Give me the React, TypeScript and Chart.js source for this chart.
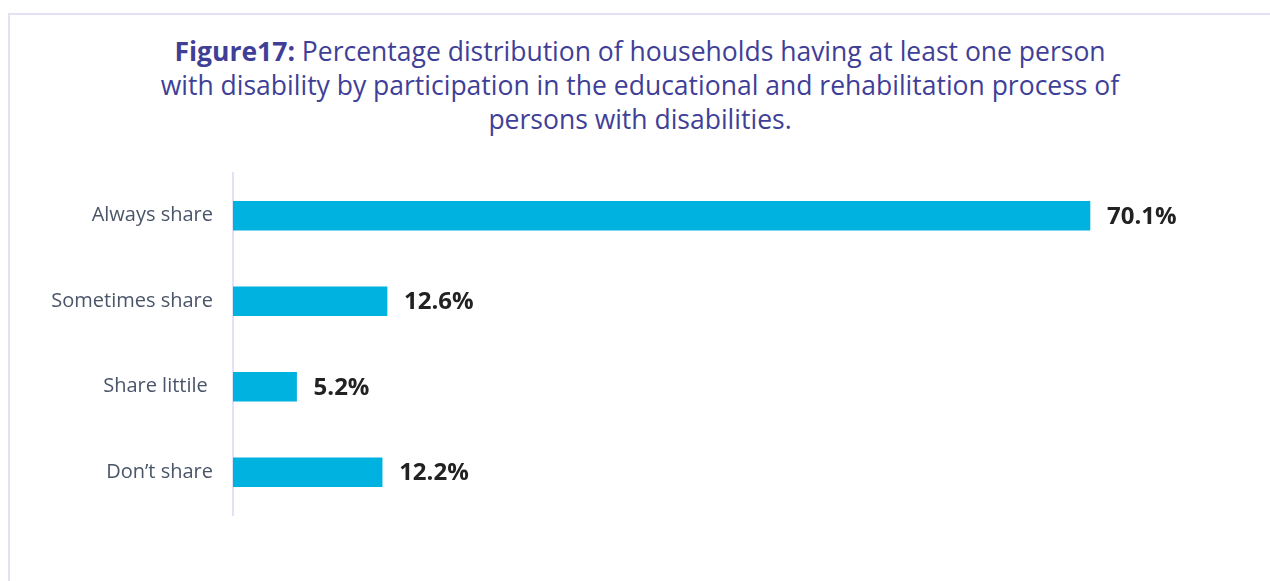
import React, { useEffect, useRef } from "react";
import { Chart, registerables } from "chart.js";

Chart.register(...registerables);

const categories = ["Always share", "Sometimes share", "Share littile ", "Don’t share"];
const values = [70.1, 12.6, 5.2, 12.2];
const valueLabels = ["70.1%", "12.6%", "5.2%", "12.2%"];

const titleBold = "Figure17:";
const titleLines = [
  " Percentage distribution of households having at least one person",
  "with disability by participation in the educational and rehabilitation process of",
  "persons with disabilities.",
];

const FONT = "'Open Sans', 'Noto Sans', sans-serif";

const valueLabelPlugin = {
  id: "valueLabels",
  afterDatasetsDraw(chart: any) {
    const meta = chart.getDatasetMeta(0);
    const ctx = chart.ctx;
    ctx.save();
    ctx.font = `bold 24px ${FONT}`;
    ctx.fillStyle = "#222222";
    ctx.textAlign = "left";
    ctx.textBaseline = "middle";
    meta.data.forEach((bar: any, i: number) => {
      ctx.fillText(valueLabels[i], bar.x + 17, bar.y + 1);
    });
    ctx.restore();
  },
};

export default function App() {
  const ref = useRef<HTMLCanvasElement | null>(null);

  useEffect(() => {
    if (!ref.current) return;
    const chart = new Chart(ref.current, {
      type: "bar",
      data: {
        labels: categories,
        datasets: [
          {
            data: values,
            backgroundColor: "#00b2e0",
            borderWidth: 0,
            barThickness: 29,
          },
        ],
      },
      options: {
        indexAxis: "y",
        animation: false,
        responsive: false,
        maintainAspectRatio: false,
        layout: { padding: { top: 173, bottom: 66, right: 59, left: 0 } },
        plugins: {
          legend: { display: false },
          tooltip: { enabled: false },
          title: { display: false },
        },
        scales: {
          x: { display: false, min: 0, max: 80 },
          y: {
            afterFit(scale: any) {
              scale.width = 233;
            },
            grid: { display: false, drawTicks: false },
            border: { display: true, color: "#e3e1f3", width: 2 },
            ticks: {
              padding: 20,
              color: "#4a5568",
              font: { family: FONT, size: 20 },
            },
          },
        },
      },
      plugins: [valueLabelPlugin],
    });
    return () => chart.destroy();
  }, []);

  return (
    <div
      style={{
        position: "fixed",
        left: 0,
        top: 0,
        width: 1270,
        height: 581,
        overflow: "hidden",
        background: "#ffffff",
      }}
    >
      <div
        style={{
          position: "absolute",
          left: 8,
          top: 13,
          width: 1400,
          height: 700,
          border: "2px solid #e3e1f3",
          boxSizing: "border-box",
        }}
      />
      <div
        style={{
          position: "absolute",
          left: 0,
          top: 34,
          width: 1280,
          textAlign: "center",
          color: "#3f3f98",
          fontFamily: FONT,
          fontSize: 26.5,
          lineHeight: "34px",
        }}
      >
        <span style={{ fontWeight: 700 }}>{titleBold}</span>
        {titleLines[0]}
        <br />
        {titleLines[1]}
        <br />
        {titleLines[2]}
      </div>
      <canvas
        ref={ref}
        width={1270}
        height={581}
        style={{ position: "absolute", left: 0, top: 0, width: 1270, height: 581 }}
      />
    </div>
  );
}
